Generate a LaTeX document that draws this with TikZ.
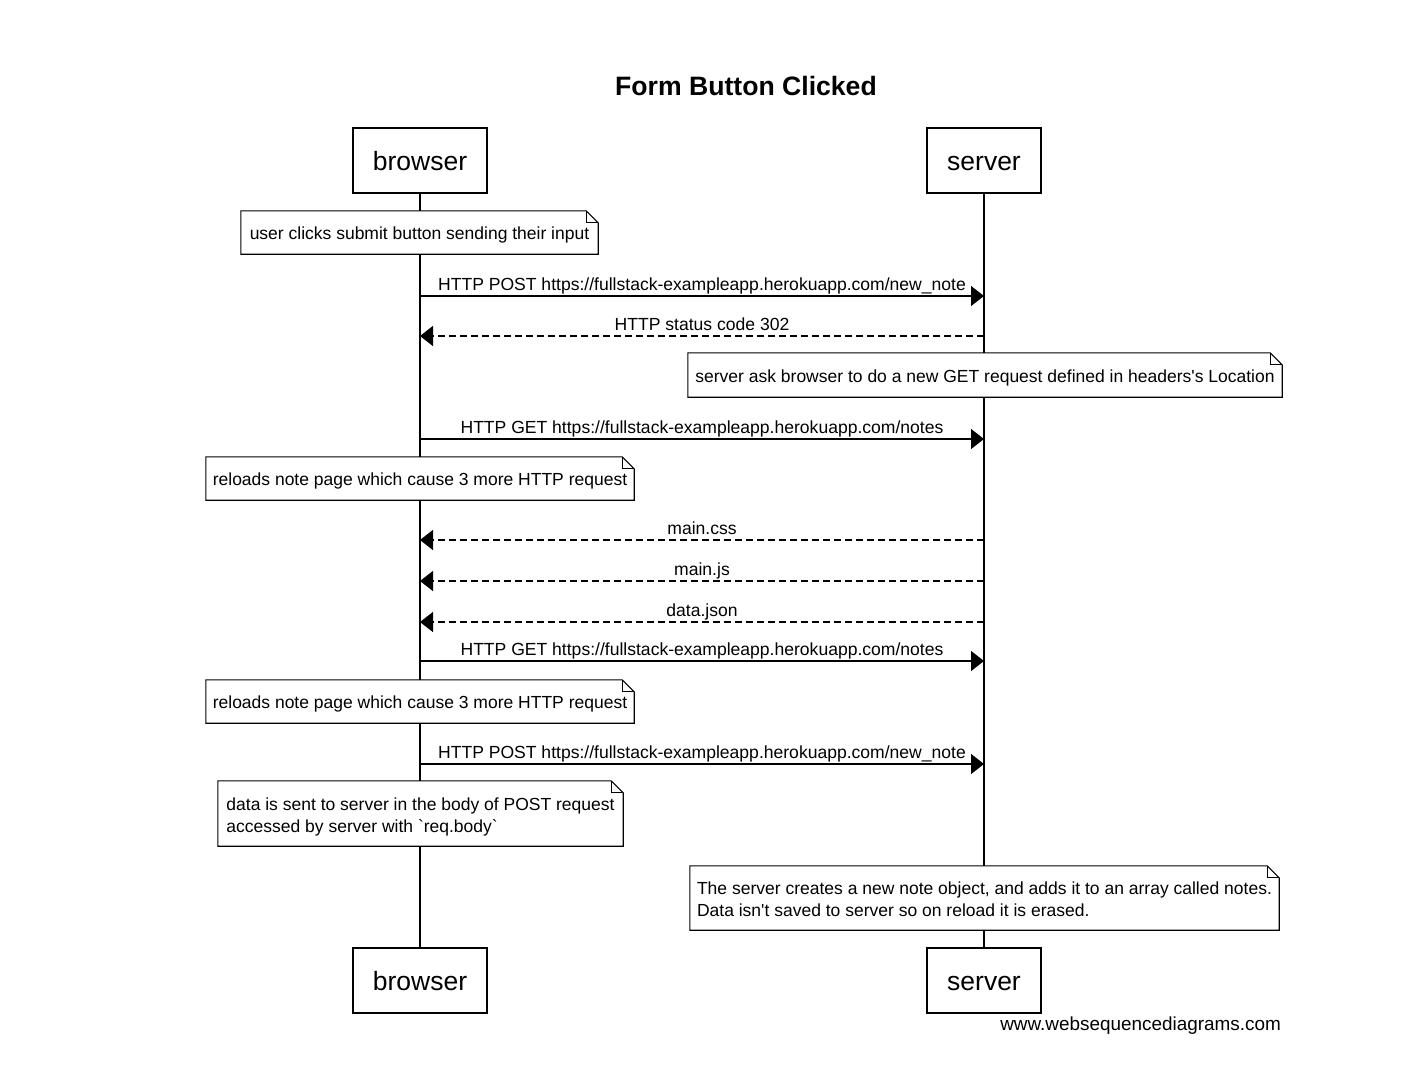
\documentclass[tikz,border=0pt]{standalone}
\usepackage{fontspec}
\setmainfont{Liberation Sans}
\usetikzlibrary{arrows.meta}
\tikzset{
  actor/.style={draw, line width=1.3pt, fill=white, minimum width=134pt, minimum height=65pt, inner sep=0pt, text height=19pt, text depth=0pt, font=\fontsize{26.5}{30}\selectfont},
  lifeline/.style={line width=1.3pt},
  note/.style={fill=white, inner sep=0pt, text height=19pt, text depth=5pt, font=\fontsize{17.5}{22}\selectfont},
  note2/.style={note, text height=15pt, text depth=22pt},
  req/.style={line width=1.3pt, -{Triangle[length=13pt,width=20pt]}},
  resp/.style={line width=1.3pt, dash pattern=on 7pt off 4pt, -{Triangle[length=13pt,width=20pt]}},
  lbl/.style={anchor=base, yshift=6pt, inner sep=0pt, font=\fontsize{17.55}{21}\selectfont}
}
\newcommand\notetext[1]{\begin{tabular}[t]{@{}l@{}}#1\end{tabular}}
\newcommand\foldnote[1]{%
  \draw[line width=1.1pt] (#1.north west) -- ([xshift=-12pt]#1.north east) -- ([yshift=-12pt]#1.north east) -- (#1.south east) -- (#1.south west) -- cycle;
  \draw[line width=1.1pt] ([xshift=-12pt]#1.north east) |- ([yshift=-12pt]#1.north east);}
\begin{document}
\begin{tikzpicture}[x=1pt,y=-1pt]
\useasboundingbox (0,0) rectangle (1409,1080);
\fill[white] (0,0) rectangle (1409,1080);
\node[font=\bfseries\fontsize{26.6}{30}\selectfont] (title) at (746,86) {Form Button Clicked};
% actors
\node[actor] (bt) at (420,160.5) {browser};
\node[actor, minimum width=114pt] (st) at (984,160.5) {server};
\node[actor] (bb) at (420,980.5) {browser};
\node[actor, minimum width=114pt] (sb) at (984,980.5) {server};
\draw[lifeline] (bt) -- (bb);
\draw[lifeline] (st) -- (sb);
% message coordinates
\foreach \n/\y in {1/296,2/336,3/439,4/540,5/581,6/622,7/661,8/764}{
  \coordinate (b\n) at (420,\y);
  \coordinate (s\n) at (984,\y);
}
% notes
\node[note, minimum width=357pt, minimum height=43pt] (n1) at (419.5,232.5) {\notetext{user clicks submit button sending their input}};
\foldnote{n1}
\draw[req] (b1) -- node[lbl] {HTTP POST https://fullstack-exampleapp.herokuapp.com/new\_note} (s1);
\draw[resp] (s2) -- node[lbl] {HTTP status code 302} (b2);
\node[note, minimum width=594pt, minimum height=44pt] (n2) at (985,375) {\notetext{server ask browser to do a new GET request defined in headers\textquotesingle s Location}};
\foldnote{n2}
\draw[req] (b3) -- node[lbl] {HTTP GET https://fullstack-exampleapp.herokuapp.com/notes} (s3);
\node[note, minimum width=428pt, minimum height=43pt] (n3) at (420,478.5) {\notetext{reloads note page which cause 3 more HTTP request}};
\foldnote{n3}
\draw[resp] (s4) -- node[lbl] {main.css} (b4);
\draw[resp] (s5) -- node[lbl] {main.js} (b5);
\draw[resp] (s6) -- node[lbl] {data.json} (b6);
\draw[req] (b7) -- node[lbl] {HTTP GET https://fullstack-exampleapp.herokuapp.com/notes} (s7);
\node[note, minimum width=428pt, minimum height=43pt] (n4) at (420,701.5) {\notetext{reloads note page which cause 3 more HTTP request}};
\foldnote{n4}
\draw[req] (b8) -- node[lbl] {HTTP POST https://fullstack-exampleapp.herokuapp.com/new\_note} (s8);
\node[note2, minimum width=405pt, minimum height=65pt] (n5) at (420.5,813.5) {\notetext{data is sent to server in the body of POST request\\accessed by server with \textasciigrave req.body\textasciigrave}};
\foldnote{n5}
\node[note2, minimum width=589pt, minimum height=64pt] (n6) at (984.5,898) {\notetext{The server creates a new note object, and adds it to an array called notes.\\Data isn\textquotesingle t saved to server so on reload it is erased.}};
\foldnote{n6}
\node[anchor=base east, inner sep=0pt, font=\fontsize{18.9}{22}\selectfont] (footer) at (1281,1030) {www.websequencediagrams.com};
\end{tikzpicture}
\end{document}
